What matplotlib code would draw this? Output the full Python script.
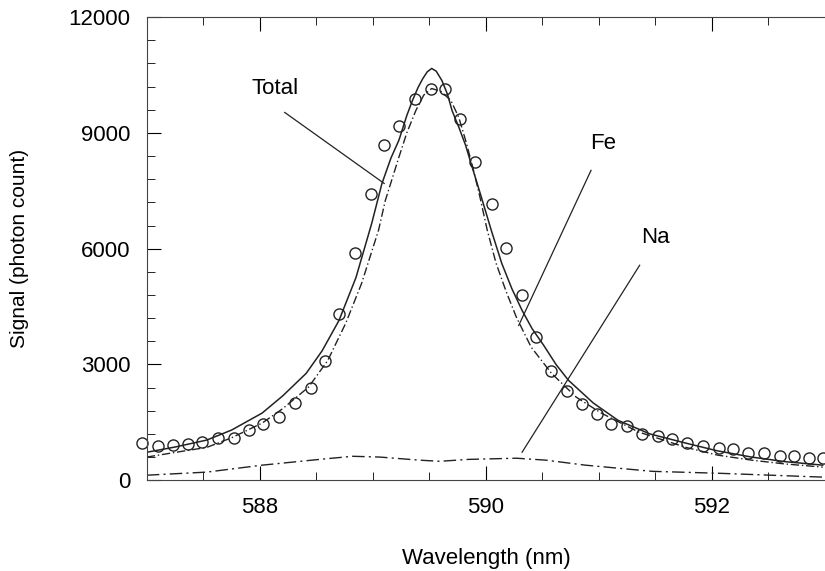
import matplotlib.pyplot as plt
from matplotlib.ticker import MultipleLocator

plt.rcParams['font.family'] = ['Liberation Sans', 'DejaVu Sans']

# measured points (circles)
wl_pts = [586.96, 587.10, 587.23, 587.36, 587.49, 587.63, 587.77, 587.90, 588.03, 588.17,
          588.31, 588.45, 588.58, 588.70, 588.84, 588.98, 589.10, 589.23, 589.37, 589.51,
          589.64, 589.77, 589.90, 590.05, 590.18, 590.32, 590.44, 590.58, 590.72, 590.85,
          590.98, 591.11, 591.25, 591.38, 591.52, 591.65, 591.78, 591.92, 592.06, 592.19,
          592.32, 592.46, 592.60, 592.73, 592.86, 592.98]
sig_pts = [960, 880, 905, 930, 985, 1090, 1090, 1300, 1450, 1630,
           1990, 2380, 3080, 4300, 5900, 7410, 8680, 9190, 9870, 10130,
           10130, 9350, 8240, 7170, 6010, 4790, 3700, 2820, 2300, 1970,
           1710, 1450, 1400, 1190, 1140, 1060, 960, 880, 830, 800,
           700, 700, 620, 620, 570, 570]

# total fit
wl_tot = [587.0, 587.25, 587.53, 587.75, 588.02, 588.2, 588.41, 588.55, 588.70, 588.85,
          588.99, 589.08, 589.16, 589.23, 589.30, 589.35, 589.40, 589.44, 589.48, 589.52,
          589.56, 589.61, 589.66, 589.70, 589.76, 589.82, 589.89, 589.96, 590.05, 590.14,
          590.23, 590.32, 590.41, 590.51, 590.62, 590.73, 590.95, 591.17, 591.45, 591.77,
          592.05, 592.35, 592.65, 592.98]
sig_tot = [725, 860, 1040, 1300, 1740, 2180, 2770, 3350, 4140, 5250,
           6660, 7690, 8350, 8810, 9450, 9840, 10180, 10400, 10580, 10670,
           10600, 10360, 10000, 9580, 9150, 8680, 8000, 7330, 6450, 5620,
           4960, 4400, 3920, 3500, 3000, 2590, 2000, 1550, 1200, 960,
           760, 600, 480, 390]

# Fe component
wl_fe = [587.0, 587.25, 587.53, 587.75, 588.02, 588.2, 588.43, 588.6, 588.76, 588.9,
         589.05, 589.11, 589.23, 589.30, 589.38, 589.45, 589.52, 589.60, 589.69, 589.76,
         589.82, 589.88, 589.94, 590.01, 590.09, 590.18, 590.27, 590.40, 590.58, 590.80,
         591.02, 591.35, 591.77, 592.05, 592.35, 592.65, 592.98]
sig_fe = [600, 720, 850, 1100, 1480, 1850, 2410, 3100, 4070, 5100,
          6480, 7250, 8370, 9000, 9580, 9980, 10150, 10080, 9840, 9400,
          8810, 8150, 7430, 6500, 5620, 4880, 4220, 3450, 2770, 2150,
          1740, 1250, 850, 650, 520, 420, 340]

# Na component
wl_na = [587.0, 587.53, 588.02, 588.53, 588.82, 589.06, 589.41, 589.59, 589.85, 590.27,
         590.53, 590.88, 591.47, 592.06, 592.98]
sig_na = [130, 210, 390, 540, 620, 600, 520, 490, 540, 570,
          520, 390, 230, 180, 80]

fig = plt.figure(figsize=(8.25, 5.71), dpi=100)
ax = fig.add_axes([0.178, 0.159, 0.822, 0.811])

ax.plot(wl_tot, sig_tot, color='#222222', lw=1.1)
ax.plot(wl_fe, sig_fe, color='#222222', lw=1.0, ls=(0, (6, 2, 1, 2)))
ax.plot(wl_na, sig_na, color='#222222', lw=1.0, ls=(0, (9, 3, 1.5, 3)))
ax.plot(wl_pts, sig_pts, 'o', mfc='none', mec='#222222', ms=8, mew=1.0, clip_on=False)

# labels with leader lines
ax.text(588.13, 10150, 'Total', fontsize=16, ha='center', va='center')
ax.plot([588.22, 589.10], [9530, 7690], color='#222222', lw=0.9)
ax.text(591.04, 8730, 'Fe', fontsize=16, ha='center', va='center')
ax.plot([590.93, 590.29], [8030, 4010], color='#222222', lw=0.9)
ax.text(591.50, 6290, 'Na', fontsize=16, ha='center', va='center')
ax.plot([591.36, 590.32], [5570, 725], color='#222222', lw=0.9)

ax.set_xlim(587, 593)
ax.set_ylim(0, 12000)
ax.xaxis.set_major_locator(MultipleLocator(2))
ax.xaxis.set_minor_locator(MultipleLocator(0.5))
ax.yaxis.set_major_locator(MultipleLocator(3000))
ax.yaxis.set_minor_locator(MultipleLocator(600))
ax.tick_params(which='both', direction='in', top=True, right=False, labelsize=16, pad=12)
ax.tick_params(which='major', length=10)
ax.tick_params(which='minor', length=6)
ax.spines['right'].set_visible(False)
for s in ['top', 'bottom', 'left']:
    ax.spines[s].set_color('#444444')

ax.set_xlabel('Wavelength (nm)', fontsize=16, labelpad=22)
ax.set_ylabel('Signal (photon count)', fontsize=15, labelpad=28)

fig.savefig('out.png', dpi=100)
